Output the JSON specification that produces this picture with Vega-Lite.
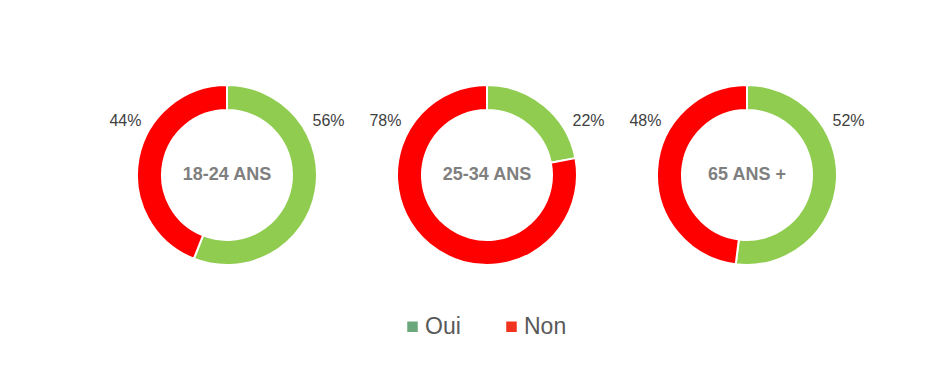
{
  "$schema": "https://vega.github.io/schema/vega-lite/v6.json",
  "background": "white",
  "padding": {"left": 97, "top": 50, "right": 0, "bottom": 0},
  "config": {
    "view": {"stroke": null},
    "font": "Liberation Sans",
    "facet": {"spacing": 0}
  },
  "data": {
    "values": [
      {"group": "18-24 ANS", "answer": "Oui", "value": 0.56},
      {"group": "18-24 ANS", "answer": "Non", "value": 0.44},
      {"group": "25-34 ANS", "answer": "Oui", "value": 0.22},
      {"group": "25-34 ANS", "answer": "Non", "value": 0.78},
      {"group": "65 ANS +", "answer": "Oui", "value": 0.52},
      {"group": "65 ANS +", "answer": "Non", "value": 0.48}
    ]
  },
  "facet": {
    "column": {
      "field": "group",
      "type": "nominal",
      "sort": ["18-24 ANS", "25-34 ANS", "65 ANS +"],
      "header": {"labels": false, "title": null},
      "title": null
    }
  },
  "spacing": 0,
  "spec": {
    "width": 260,
    "height": 250,
    "layer": [
      {
        "mark": {"type": "arc", "outerRadius": 90, "innerRadius": 65, "stroke": "white", "strokeWidth": 2},
        "encoding": {
          "theta": {"field": "value", "type": "quantitative", "stack": true},
          "order": {"field": "answer", "sort": "descending"},
          "fill": {
            "field": "answer",
            "type": "nominal",
            "scale": {"domain": ["Non", "Oui"], "range": ["#ff0000", "#8fcc50"]},
            "legend": null
          }
        }
      },
      {
        "mark": {"type": "text", "text": ""},
        "encoding": {
          "color": {
            "field": "answer",
            "type": "nominal",
            "scale": {"domain": ["Oui", "Non"], "range": ["#6aa77a", "#f0321e"]},
            "legend": {
              "orient": "none",
              "legendX": 304,
              "legendY": 265,
              "direction": "horizontal",
              "title": null,
              "symbolType": "square",
              "symbolSize": 110,
              "symbolStrokeWidth": 0,
              "labelFontSize": 23,
              "labelColor": "#595959",
              "labelFont": "Liberation Sans",
              "columnPadding": 39,
              "labelOffset": 1
            }
          }
        }
      },
      {
        "mark": {"type": "text", "fontSize": 16, "color": "#404040", "dy": -54, "baseline": "middle"},
        "encoding": {
          "x": {
            "field": "answer",
            "type": "nominal",
            "scale": {"type": "point", "domain": ["Non", "Oui"], "padding": 0.14},
            "axis": null
          },
          "text": {"field": "value", "type": "quantitative", "format": ".0%"}
        }
      },
      {
        "transform": [{"filter": "datum.answer === 'Oui'"}],
        "mark": {"type": "text", "fontSize": 18, "fontWeight": "bold", "color": "#7f7f7f", "baseline": "middle"},
        "encoding": {
          "text": {"field": "group", "type": "nominal"}
        }
      }
    ]
  }
}
